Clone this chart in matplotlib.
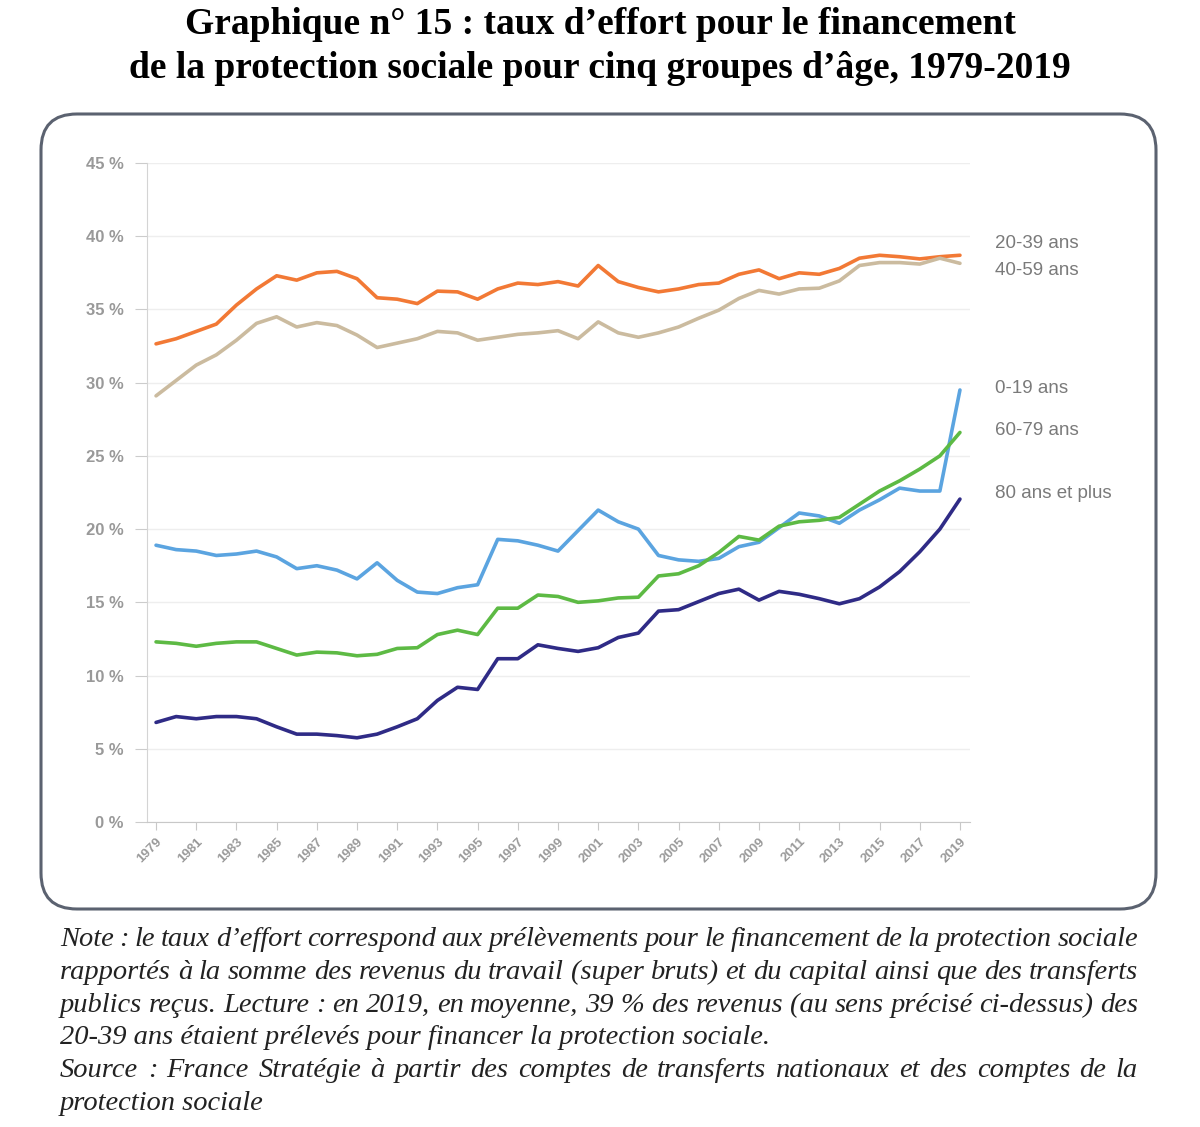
import matplotlib
matplotlib.use("Agg")
import matplotlib.pyplot as plt
from matplotlib.patches import FancyBboxPatch
from matplotlib.ticker import FuncFormatter, MultipleLocator

# taux d'effort par groupe d'age, 1979-2019 (en %)
years = list(range(1979, 2020))

age_0_19 = [18.9, 18.6, 18.5, 18.2, 18.3, 18.5, 18.1, 17.3, 17.5, 17.2,
            16.6, 17.7, 16.5, 15.7, 15.6, 16.0, 16.2, 19.3, 19.2, 18.9,
            18.5, 19.9, 21.3, 20.5, 20.0, 18.2, 17.9, 17.8, 18.0, 18.8,
            19.1, 20.1, 21.1, 20.9, 20.4, 21.3, 22.0, 22.8, 22.6, 22.6,
            29.5]
age_20_39 = [32.65, 33.0, 33.5, 34.0, 35.3, 36.4, 37.3, 37.0, 37.5, 37.6,
             37.1, 35.8, 35.7, 35.4, 36.25, 36.2, 35.7, 36.4, 36.8, 36.7,
             36.9, 36.6, 38.0, 36.9, 36.5, 36.2, 36.4, 36.7, 36.8, 37.4,
             37.7, 37.1, 37.5, 37.4, 37.8, 38.5, 38.7, 38.6, 38.45, 38.6,
             38.7]
age_40_59 = [29.1, 30.15, 31.2, 31.9, 32.9, 34.05, 34.5, 33.8, 34.1, 33.9,
             33.25, 32.4, 32.7, 33.0, 33.5, 33.4, 32.9, 33.1, 33.3, 33.4,
             33.55, 33.0, 34.15, 33.4, 33.1, 33.4, 33.8, 34.4, 34.95, 35.75,
             36.3, 36.05, 36.4, 36.45, 36.95, 38.0, 38.2, 38.2, 38.1, 38.5,
             38.15]
age_60_79 = [12.3, 12.2, 12.0, 12.2, 12.3, 12.3, 11.85, 11.4, 11.6, 11.55,
             11.35, 11.45, 11.85, 11.9, 12.8, 13.1, 12.8, 14.6, 14.6, 15.5,
             15.4, 15.0, 15.1, 15.3, 15.35, 16.8, 16.95, 17.5, 18.4, 19.5,
             19.25, 20.2, 20.5, 20.6, 20.8, 21.7, 22.6, 23.3, 24.1, 25.0,
             26.6]
age_80_plus = [6.8, 7.2, 7.05, 7.2, 7.2, 7.05, 6.5, 6.0, 6.0, 5.9,
               5.75, 6.0, 6.5, 7.05, 8.3, 9.2, 9.05, 11.15, 11.15, 12.1,
               11.85, 11.65, 11.9, 12.6, 12.9, 14.4, 14.5, 15.05, 15.6, 15.9,
               15.15, 15.75, 15.55, 15.25, 14.9, 15.25, 16.05, 17.1, 18.45, 20.0,
               22.05]

series_names = ["0-19 ans", "20-39 ans", "40-59 ans", "60-79 ans", "80 ans et plus"]
series_values = [age_0_19, age_20_39, age_40_59, age_60_79, age_80_plus]
colors = ["#5ba4e0", "#f27935", "#cbbb9f", "#5dba44", "#2f2b86"]
# y position (in %) of the right-hand labels
label_y = [29.6, 39.5, 37.65, 26.7, 22.4]

title_lines = ["Graphique n° 15 : taux d’effort pour le financement",
               "de la protection sociale pour cinq groupes d’âge, 1979-2019"]
note_lines = [
    ("Note : le taux d’effort correspond aux prélèvements pour le financement de la protection sociale", True),
    ("rapportés à la somme des revenus du travail (super bruts) et du capital ainsi que des transferts", True),
    ("publics reçus. Lecture : en 2019, en moyenne, 39 % des revenus (au sens précisé ci-dessus) des", True),
    ("20-39 ans étaient prélevés pour financer la protection sociale.", False),
    ("Source : France Stratégie à partir des comptes de transferts nationaux et des comptes de la", True),
    ("protection sociale", False),
]

W, H = 1200, 1127
fig = plt.figure(figsize=(W / 100, H / 100), dpi=100)

# background axes in pixel units (y downwards) for the frame and texts
bg = fig.add_axes([0, 0, 1, 1])
bg.set_xlim(0, W)
bg.set_ylim(H, 0)
bg.axis("off")

frame = FancyBboxPatch((41, 114), 1115, 795,
                       boxstyle="round,pad=0,rounding_size=36",
                       facecolor="white", edgecolor="#5b6270", linewidth=2.2)
bg.add_patch(frame)

for i, line in enumerate(title_lines):
    bg.text(600, 24 + i * 45, line, ha="center", va="center",
            fontsize=27, fontweight="bold", family="Liberation Serif", color="black")

# main chart
ax = fig.add_axes([147 / W, 1 - 822 / H, 823 / W, 659 / H])
for name, vals, col in zip(series_names, series_values, colors):
    ax.plot(years, vals, color=col, linewidth=2.6, solid_joinstyle="round",
            solid_capstyle="round")

ax.set_xlim(1978.55, 2019.5)
ax.set_ylim(0, 45)
ax.yaxis.set_major_locator(MultipleLocator(5))
ax.yaxis.set_major_formatter(FuncFormatter(lambda v, p: f"{v:.0f} %"))
ax.set_xticks(years[::2])
ax.set_xticklabels([str(y) for y in years[::2]], rotation=45, ha="right",
                   va="top", rotation_mode="anchor")
ax.grid(axis="y", color="#eeeeee", linewidth=1)
ax.set_axisbelow(True)
for side in ["top", "right"]:
    ax.spines[side].set_visible(False)
ax.spines["left"].set_color("#d4d4d4")
ax.spines["bottom"].set_color("#c8c8c8")
ax.tick_params(axis="y", length=8.6, color="#cccccc", labelcolor="#999999",
               labelsize=12, pad=8)
ax.tick_params(axis="x", length=5.8, color="#c8c8c8", labelcolor="#9a9a9a",
               labelsize=9.5, pad=4)
for lab in ax.get_yticklabels() + ax.get_xticklabels():
    lab.set_family("Liberation Sans")
    lab.set_fontweight("bold")

for name, ly in zip(series_names, label_y):
    ax.text(2020.75, ly, name, ha="left", va="center", fontsize=13.5,
            color="#7a7a7a", family="Liberation Sans", clip_on=False)

# justified note text
renderer = fig.canvas.get_renderer()
x0, x1 = 60, 1138
for i, (line, justify) in enumerate(note_lines):
    y = 940 + i * 32.6
    kw = dict(ha="left", va="center", fontsize=20.5, style="italic",
              family="Liberation Serif", color="#222222")
    if not justify:
        bg.text(x0, y, line, **kw)
        continue
    words = line.split(" ")
    texts = [bg.text(x0, y, w, **kw) for w in words]
    widths = [t.get_window_extent(renderer).width for t in texts]
    gap = (x1 - x0 - sum(widths)) / (len(words) - 1)
    x = x0
    for t, w in zip(texts, widths):
        t.set_x(x)
        x += w + gap

fig.savefig("out.png", dpi=100)
